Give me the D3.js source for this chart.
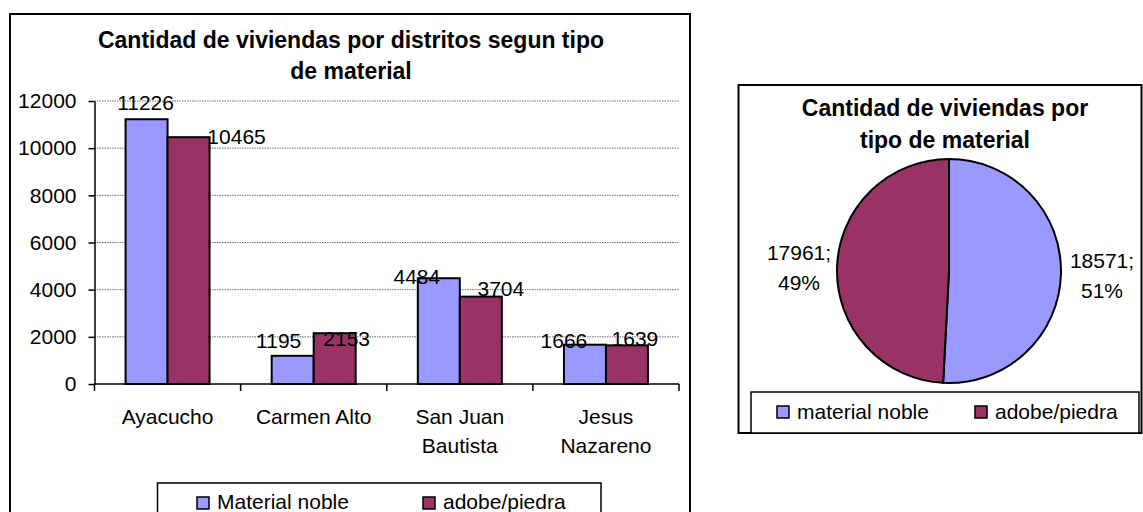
<!DOCTYPE html>
<html>
<head>
<meta charset="utf-8">
<script src="https://cdn.jsdelivr.net/npm/d3@7/dist/d3.min.js"></script>
<style>
  body { margin: 0; background: #fff; }
  svg { display: block; font-family: "Liberation Sans", Arial, sans-serif; }
</style>
</head>
<body>
<svg id="chart" width="1143" height="512"></svg>
<script>
var districts = [["Ayacucho"], ["Carmen Alto"], ["San Juan", "Bautista"], ["Jesus", "Nazareno"]];
var seriesNames = ["Material noble", "adobe/piedra"];
var materialNoble = [11226, 1195, 4484, 1666];
var adobePiedra = [10465, 2153, 3704, 1639];
var yTicks = [0, 2000, 4000, 6000, 8000, 10000, 12000];

var pieNames = ["material noble", "adobe/piedra"];
var pieValues = [18571, 17961];
var piePercents = ["51%", "49%"];

var colors = ["#9999FF", "#993366"];

// label nudges, Excel moved some labels around to avoid overlap
var nobleNudge = [[-1, -9], [-14, -8], [-22, 6], [-21, 3]];
var adobeNudge = [[48, 7], [12, 13], [20, -1], [8, 1]];

var svg = d3.select("#chart");

// ---------- bar chart ----------
svg.append("rect")
  .attr("x", 10).attr("y", 14)
  .attr("width", 680).attr("height", 520)
  .attr("fill", "none").attr("stroke", "black").attr("stroke-width", 2);

var title1 = svg.append("text")
  .attr("x", 350).attr("text-anchor", "middle")
  .attr("font-weight", "bold").attr("font-size", 23);
title1.append("tspan").attr("x", 351).attr("y", 48).text("Cantidad de viviendas por distritos segun tipo");
title1.append("tspan").attr("x", 351).attr("y", 79).text("de material");

var plotLeft = 94.5, plotRight = 679, plotTop = 101, plotBottom = 384;

var x = d3.scaleBand()
  .domain(d3.range(districts.length))
  .range([plotLeft, plotRight])
  .paddingInner(0).paddingOuter(0);

var groupWidth = 84;
var xSeries = d3.scaleBand()
  .domain([0, 1])
  .range([0, groupWidth]);

var y = d3.scaleLinear()
  .domain([0, 12000])
  .range([plotBottom, plotTop]);

// gridlines
svg.append("g")
  .selectAll("line").data(yTicks.filter(function(d){ return d > 0; })).enter()
  .append("line")
  .attr("x1", plotLeft).attr("x2", plotRight)
  .attr("y1", function(d){ return y(d); })
  .attr("y2", function(d){ return y(d); })
  .attr("stroke", "#6e6e6e").attr("stroke-width", 1)
  .attr("stroke-dasharray", "1.5,1");

var yAxis = svg.append("g")
  .attr("transform", "translate(" + plotLeft + ",0)")
  .call(d3.axisLeft(y).tickValues(yTicks).tickSize(6).tickSizeOuter(0).tickPadding(12).tickFormat(d3.format("d")));
yAxis.select(".domain").attr("stroke", "black").attr("stroke-width", 1.5);
yAxis.selectAll(".tick line").attr("stroke", "black").attr("stroke-width", 1.5);
yAxis.selectAll("text").attr("font-size", 21).attr("fill", "black")
  .attr("font-family", "Liberation Sans, Arial, sans-serif");

var series = [materialNoble, adobePiedra];
var nudges = [nobleNudge, adobeNudge];

series.forEach(function(vals, s){
  var g = svg.append("g");
  g.selectAll("rect").data(vals).enter()
    .append("rect")
    .attr("x", function(d, i){ return x(i) + (x.bandwidth() - groupWidth) / 2 + xSeries(s); })
    .attr("y", function(d){ return y(d); })
    .attr("width", xSeries.bandwidth())
    .attr("height", function(d){ return y(0) - y(d); })
    .attr("fill", colors[s])
    .attr("stroke", "black").attr("stroke-width", 2);
});

// x axis line and ticks
var xAxis = svg.append("g");
xAxis.append("line")
  .attr("x1", plotLeft).attr("x2", plotRight)
  .attr("y1", plotBottom).attr("y2", plotBottom)
  .attr("stroke", "black").attr("stroke-width", 1.5);
xAxis.selectAll(".xtick").data(d3.range(districts.length + 1)).enter()
  .append("line")
  .attr("x1", function(i){ return plotLeft + i * x.bandwidth(); })
  .attr("x2", function(i){ return plotLeft + i * x.bandwidth(); })
  .attr("y1", plotBottom).attr("y2", plotBottom + 7)
  .attr("stroke", "black").attr("stroke-width", 1.5);

var catLabels = svg.append("g").selectAll("text").data(districts).enter()
  .append("text")
  .attr("text-anchor", "middle")
  .attr("font-size", 21);
catLabels.each(function(lines, i){
  var t = d3.select(this);
  lines.forEach(function(line, k){
    t.append("tspan")
      .attr("x", x(i) + x.bandwidth() / 2)
      .attr("y", 424 + k * 29)
      .text(line);
  });
});

// value labels
series.forEach(function(vals, s){
  svg.append("g").selectAll("text").data(vals).enter()
    .append("text")
    .attr("text-anchor", "middle")
    .attr("font-size", 21)
    .attr("x", function(d, i){
      return x(i) + (x.bandwidth() - groupWidth) / 2 + xSeries(s) + xSeries.bandwidth() / 2 + nudges[s][i][0];
    })
    .attr("y", function(d, i){ return y(d) + nudges[s][i][1]; })
    .text(function(d){ return d; });
});

// bar legend
svg.append("rect")
  .attr("x", 157.5).attr("y", 483)
  .attr("width", 443.5).attr("height", 45)
  .attr("fill", "white").attr("stroke", "black").attr("stroke-width", 1.5);
var barLegend = svg.append("g").selectAll("g").data(seriesNames).enter()
  .append("g")
  .attr("transform", function(d, i){ return "translate(" + (197 + i * 226) + ",497)"; });
barLegend.append("rect")
  .attr("width", 12).attr("height", 12)
  .attr("fill", function(d, i){ return colors[i]; })
  .attr("stroke", "black").attr("stroke-width", 1.5);
barLegend.append("text")
  .attr("x", 20).attr("y", 11.5)
  .attr("font-size", 21)
  .text(function(d){ return d; });

// ---------- pie chart ----------
svg.append("rect")
  .attr("x", 738.5).attr("y", 85)
  .attr("width", 403).attr("height", 348)
  .attr("fill", "none").attr("stroke", "black").attr("stroke-width", 2);

var title2 = svg.append("text")
  .attr("text-anchor", "middle")
  .attr("font-weight", "bold").attr("font-size", 23);
title2.append("tspan").attr("x", 945).attr("y", 116).text("Cantidad de viviendas por");
title2.append("tspan").attr("x", 945).attr("y", 148).text("tipo de material");

var cx = 949, cy = 271, radius = 112;
var pie = d3.pie().sort(null).value(function(d){ return d; });
var arc = d3.arc().innerRadius(0).outerRadius(radius);
var arcs = pie(pieValues);

var pieG = svg.append("g").attr("transform", "translate(" + cx + "," + cy + ")");
pieG.selectAll("path").data(arcs).enter()
  .append("path")
  .attr("d", arc)
  .attr("fill", function(d, i){ return colors[i]; })
  .attr("stroke", "black").attr("stroke-width", 2);

// labels outside, value; percent
var pieLabels = pieG.selectAll(".plabel").data(arcs).enter()
  .append("text")
  .attr("text-anchor", "middle")
  .attr("font-size", 21);
pieLabels.each(function(d, i){
  var t = d3.select(this);
  var lx = i === 0 ? 153 : -150;
  var ly = i === 0 ? -3 : -11;
  t.append("tspan").attr("x", lx).attr("y", ly).text(pieValues[i] + ";");
  t.append("tspan").attr("x", lx).attr("y", ly + 30).text(piePercents[i]);
});

// pie legend
svg.append("rect")
  .attr("x", 751).attr("y", 392)
  .attr("width", 388).attr("height", 41)
  .attr("fill", "white").attr("stroke", "black").attr("stroke-width", 1.5);
var pieLegend = svg.append("g").selectAll("g").data(pieNames).enter()
  .append("g")
  .attr("transform", function(d, i){ return "translate(" + (777 + i * 198) + ",406)"; });
pieLegend.append("rect")
  .attr("width", 12).attr("height", 12)
  .attr("fill", function(d, i){ return colors[i]; })
  .attr("stroke", "black").attr("stroke-width", 1.5);
pieLegend.append("text")
  .attr("x", 20).attr("y", 13)
  .attr("font-size", 21)
  .text(function(d){ return d; });
</script>
</body>
</html>
